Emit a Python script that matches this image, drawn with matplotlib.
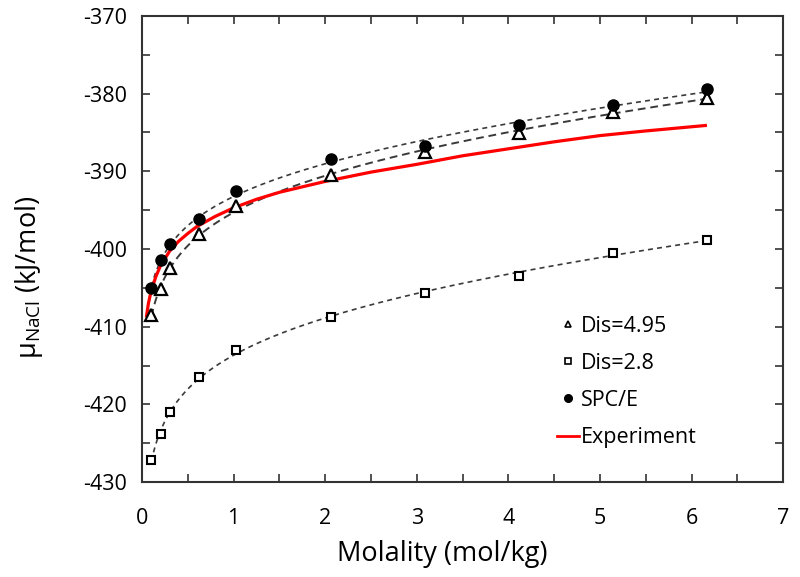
import numpy as np
import matplotlib
matplotlib.use('Agg')
import matplotlib.pyplot as plt
from matplotlib.lines import Line2D
from matplotlib.ticker import MultipleLocator

plt.rcParams['font.family'] = ['Open Sans', 'DejaVu Sans']
plt.rcParams['mathtext.fontset'] = 'custom'
plt.rcParams['mathtext.rm'] = 'Open Sans'
plt.rcParams['mathtext.it'] = 'Open Sans:italic'
plt.rcParams['axes.unicode_minus'] = False

# molality of the simulated systems
molality = [0.103, 0.206, 0.309, 0.617, 1.03, 2.06, 3.09, 4.12, 5.14, 6.17]

# chemical potential (kJ/mol)
dis495 = [-408.5, -405.2, -402.5, -398.1, -394.5, -390.5, -387.5, -385.1, -382.3, -380.5]
dis28 = [-427.1, -423.8, -421.0, -416.5, -413.0, -408.8, -405.6, -403.5, -400.5, -398.8]
spce = [-405.0, -401.4, -399.3, -396.2, -392.5, -388.4, -386.7, -384.0, -381.5, -379.4]

# experiment curve
exp_m = [0.05, 0.07, 0.1, 0.15, 0.2, 0.3, 0.4, 0.5, 0.6, 0.8, 1.0, 1.25, 1.5, 1.75, 2.0,
         2.5, 3.0, 3.5, 4.0, 4.5, 5.0, 5.5, 6.15]
exp_mu = [-408.6, -407.0, -405.4, -403.6, -402.2, -400.3, -399.0, -398.0, -397.1, -395.8,
          -394.7, -393.6, -392.7, -392.0, -391.3, -390.1, -389.1, -388.0, -387.1, -386.2,
          -385.4, -384.8, -384.1]


def trend(x, y):
    # fitted trend line a + b*ln(m) + c*m through the simulation points
    x = np.asarray(x, float)
    y = np.asarray(y, float)
    A = np.column_stack([np.ones_like(x), np.log(x), x])
    coef = np.linalg.lstsq(A, y, rcond=None)[0]
    xs = np.linspace(x[0], x[-1], 300)
    return xs, coef[0] + coef[1] * np.log(xs) + coef[2] * xs


fig = plt.figure(figsize=(8, 5.77), dpi=100)
ax = fig.add_axes([0.1775, 0.1646, 0.8015, 0.8077])

gray = '#3a3a3a'
ax.plot(*trend(molality, dis495), ls=(0, (4, 2.5)), color=gray, lw=1.4, zorder=2)
ax.plot(*trend(molality, dis28), ls=(0, (3, 2.5)), color=gray, lw=1.2, zorder=2)
ax.plot(*trend(molality, spce), ls=(0, (3, 2.5)), color=gray, lw=1.2, zorder=2)
ax.plot(exp_m, exp_mu, color='red', lw=2.3, zorder=3)

ax.plot(molality, dis495, ls='none', marker='^', ms=8, mfc='white', mec='black', mew=1.6, zorder=4)
ax.plot(molality, dis28, ls='none', marker='s', ms=6, mfc='white', mec='black', mew=1.5, zorder=4)
ax.plot(molality, spce, ls='none', marker='o', ms=8, color='black', zorder=5)

ax.set_xlim(0, 7)
ax.set_ylim(-430, -370)
ax.xaxis.set_major_locator(MultipleLocator(1))
ax.xaxis.set_minor_locator(MultipleLocator(0.5))
ax.yaxis.set_major_locator(MultipleLocator(10))
ax.yaxis.set_minor_locator(MultipleLocator(5))
ax.tick_params(which='both', direction='in', top=True, right=True, length=6, width=1.2,
               color='#333333', labelsize=15.5)
ax.tick_params(axis='x', which='both', pad=19)
ax.tick_params(axis='y', which='both', pad=11)

for s in ax.spines.values():
    s.set_linewidth(1.5)
    s.set_color('#333333')

ax.set_xlabel('Molality (mol/kg)', fontsize=19.5)
ax.xaxis.set_label_coords(0.469, -0.125)
ax.set_ylabel(r'μ$_{\mathrm{NaCl}}$ (kJ/mol)', fontsize=19.5)
ax.yaxis.set_label_coords(-0.152, 0.44)

handles = [
    Line2D([], [], ls='none', marker='^', ms=5, mfc='white', mec='black', mew=1.2),
    Line2D([], [], ls='none', marker='s', ms=4.5, mfc='white', mec='black', mew=1.2),
    Line2D([], [], ls='none', marker='o', ms=5.5, color='black'),
    Line2D([], [], color='red', lw=2),
]
labels = ['Dis=4.95', 'Dis=2.8', 'SPC/E', 'Experiment']
ax.legend(handles, labels, loc='center left', bbox_to_anchor=(0.648, 0.215), frameon=False,
          fontsize=15.5, handlelength=1.0, handletextpad=0.1, labelspacing=0.75,
          borderpad=0, borderaxespad=0)

fig.savefig('out.png', dpi=100)
